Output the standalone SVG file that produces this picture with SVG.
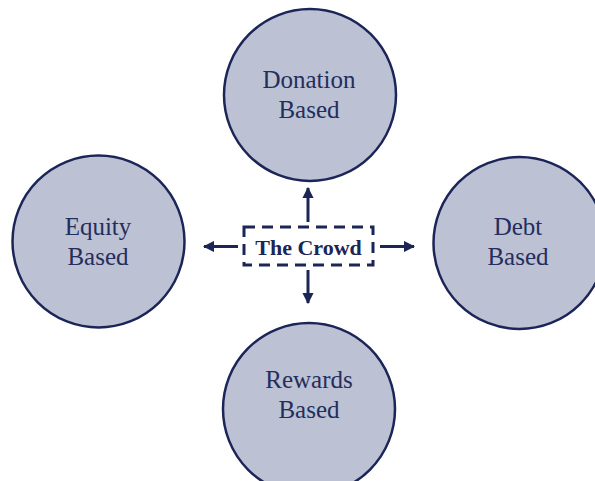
<svg xmlns="http://www.w3.org/2000/svg" width="595" height="481" viewBox="0 0 595 481">
<style>
.node circle{fill:#bcc1d4;stroke:#1c2557;stroke-width:2.5}
.lbl{font-family:"Liberation Serif","DejaVu Serif",serif;font-size:25px;fill:#242e5c;text-anchor:middle}
.crowd{font-family:"Liberation Serif","DejaVu Serif",serif;font-size:22px;font-weight:bold;fill:#1c2557;text-anchor:middle}
.conn line{stroke:#1c2557;stroke-width:3}
</style>
<defs>
<marker id="ah" viewBox="0 0 10 10" refX="9" refY="5" markerWidth="3.8" markerHeight="3.8" orient="auto" markerUnits="strokeWidth">
<path d="M0,0 L10,5 L0,10 z" fill="#1c2557"/>
</marker>
</defs>
<rect width="595" height="481" fill="#ffffff"/>
<g id="donation" class="node">
<circle cx="310" cy="95" r="86"/>
<text class="lbl" x="309" y="88">Donation</text>
<text class="lbl" x="309" y="118">Based</text>
</g>
<g id="equity" class="node">
<circle cx="98.5" cy="241.5" r="86"/>
<text class="lbl" x="98" y="235">Equity</text>
<text class="lbl" x="98" y="265">Based</text>
</g>
<g id="debt" class="node">
<circle cx="519.5" cy="243" r="86"/>
<text class="lbl" x="518" y="235">Debt</text>
<text class="lbl" x="518" y="265">Based</text>
</g>
<g id="rewards" class="node">
<circle cx="309" cy="409" r="86"/>
<text class="lbl" x="309" y="388">Rewards</text>
<text class="lbl" x="309" y="418">Based</text>
</g>
<g id="crowd">
<rect x="244" y="227" width="129" height="38" fill="none" stroke="#1c2557" stroke-width="3" stroke-dasharray="11 7"/>
<text class="crowd" x="308.5" y="255">The Crowd</text>
</g>
<g id="connectors" class="conn">
<line x1="308" y1="222" x2="308" y2="188" marker-end="url(#ah)"/>
<line x1="308" y1="270" x2="308" y2="303" marker-end="url(#ah)"/>
<line x1="238" y1="246.5" x2="204" y2="246.5" marker-end="url(#ah)"/>
<line x1="380" y1="246.5" x2="414" y2="246.5" marker-end="url(#ah)"/>
</g>
</svg>
